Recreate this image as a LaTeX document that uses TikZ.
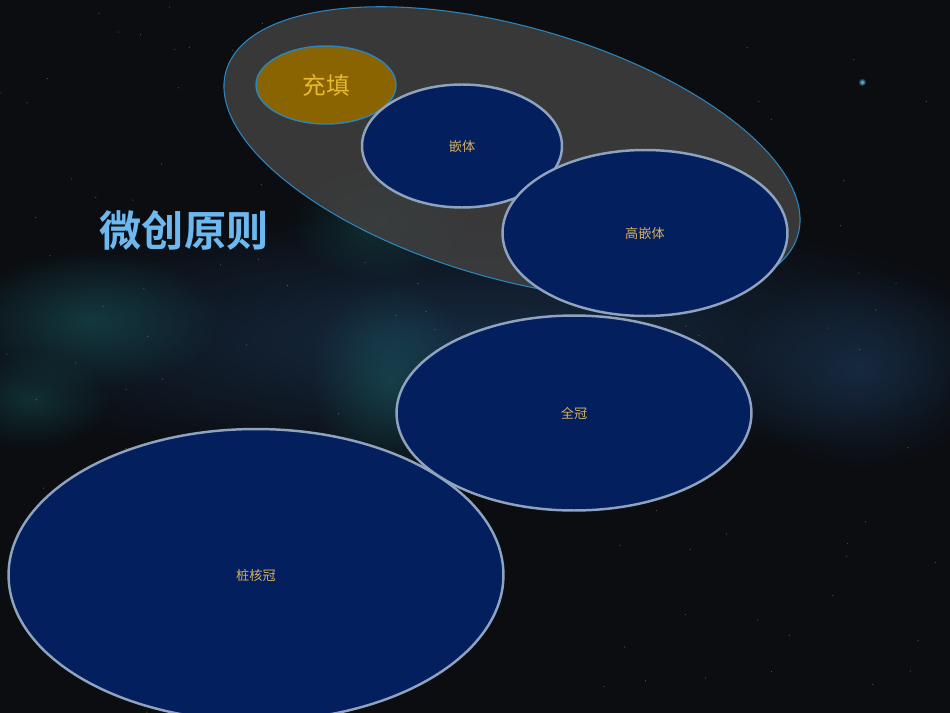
\documentclass[tikz,border=0pt]{standalone}
\usepackage{fontspec}
\setmainfont{Noto Sans CJK SC}
\newfontfamily\titlefont{Noto Sans CJK SC Bold}
\usetikzlibrary{shapes.geometric}
\usetikzlibrary{fadings}

\definecolor{spacebg}{HTML}{0B0D11}
\definecolor{navyfill}{HTML}{031F5E}
\definecolor{rimgray}{HTML}{8FA3BF}
\definecolor{goldfill}{HTML}{8A6400}
\definecolor{goldtext}{HTML}{E8B830}
\definecolor{khaki}{HTML}{D2B060}
\definecolor{skyblue}{HTML}{6EB8F0}
\definecolor{rimblue}{HTML}{2B86C0}
\definecolor{haze}{HTML}{1C7A78}
\definecolor{bluehaze}{HTML}{1E3E62}

\tikzfading[name=glow, inner color=transparent!0, outer color=transparent!100]

\begin{document}
\begin{tikzpicture}[x=0.02cm,y=-0.02cm,
    disc/.style={ellipse, draw=rimgray, line width=1.4pt, fill=navyfill,
                 text=khaki, font=\fontsize{7.5}{8}\selectfont, inner sep=0pt}]
        % \draw[help lines] (0,0) grid (950,713);
      \fill[spacebg] (0,0) rectangle (950,713);
      \useasboundingbox (0,0) rectangle (950,713);

      % nebula
      \fill[bluehaze, path fading=glow, opacity=0.6] (470,340) ellipse (560 and 130);
      \fill[haze, path fading=glow, opacity=0.35] (90,320) ellipse (130 and 70);
      \fill[haze, path fading=glow, opacity=0.3] (30,400) ellipse (80 and 50);
      \fill[haze, path fading=glow, opacity=0.35] (390,380) ellipse (80 and 100);
      \fill[haze, path fading=glow, opacity=0.3] (380,220) ellipse (90 and 60);
      \fill[bluehaze, path fading=glow, opacity=0.5] (860,370) ellipse (130 and 100);
      \fill[cyan!60, path fading=glow] (862,82) circle (4);
      \pgfmathsetseed{7}
      \foreach \i in {1,...,140}
        \fill[white, opacity=0.3] (rnd*950, rnd*713) circle (0.35pt);

      \node[ellipse, draw=rimblue, line width=0.6pt, fill=gray!50!black, fill opacity=0.85,
            minimum width=11.9cm, minimum height=5.04cm, rotate=-16] (group) at (512,153) {};

      \node[ellipse, draw=rimblue, line width=0.8pt, fill=goldfill, text=goldtext,
            font=\fontsize{13.5}{14}\selectfont, inner sep=0pt,
            minimum width=2.8cm, minimum height=1.56cm]          (fill)  at (326,85)  {充填};
      \node[disc, minimum width=4.0cm, minimum height=2.46cm]    (inlay) at (462,146) {嵌体};
      \node[disc, minimum width=5.7cm, minimum height=3.32cm]    (onlay) at (645,233) {高嵌体};
      \node[disc, minimum width=7.1cm, minimum height=3.9cm]     (crown) at (574,413) {全冠};
      \node[disc, minimum width=9.9cm, minimum height=5.84cm]    (post)  at (256,575) {桩核冠};

      \node[text=skyblue, font=\titlefont\fontsize{24}{24}\selectfont] (title) at (184,230) {微创原则};
    \end{tikzpicture}
\end{document}
